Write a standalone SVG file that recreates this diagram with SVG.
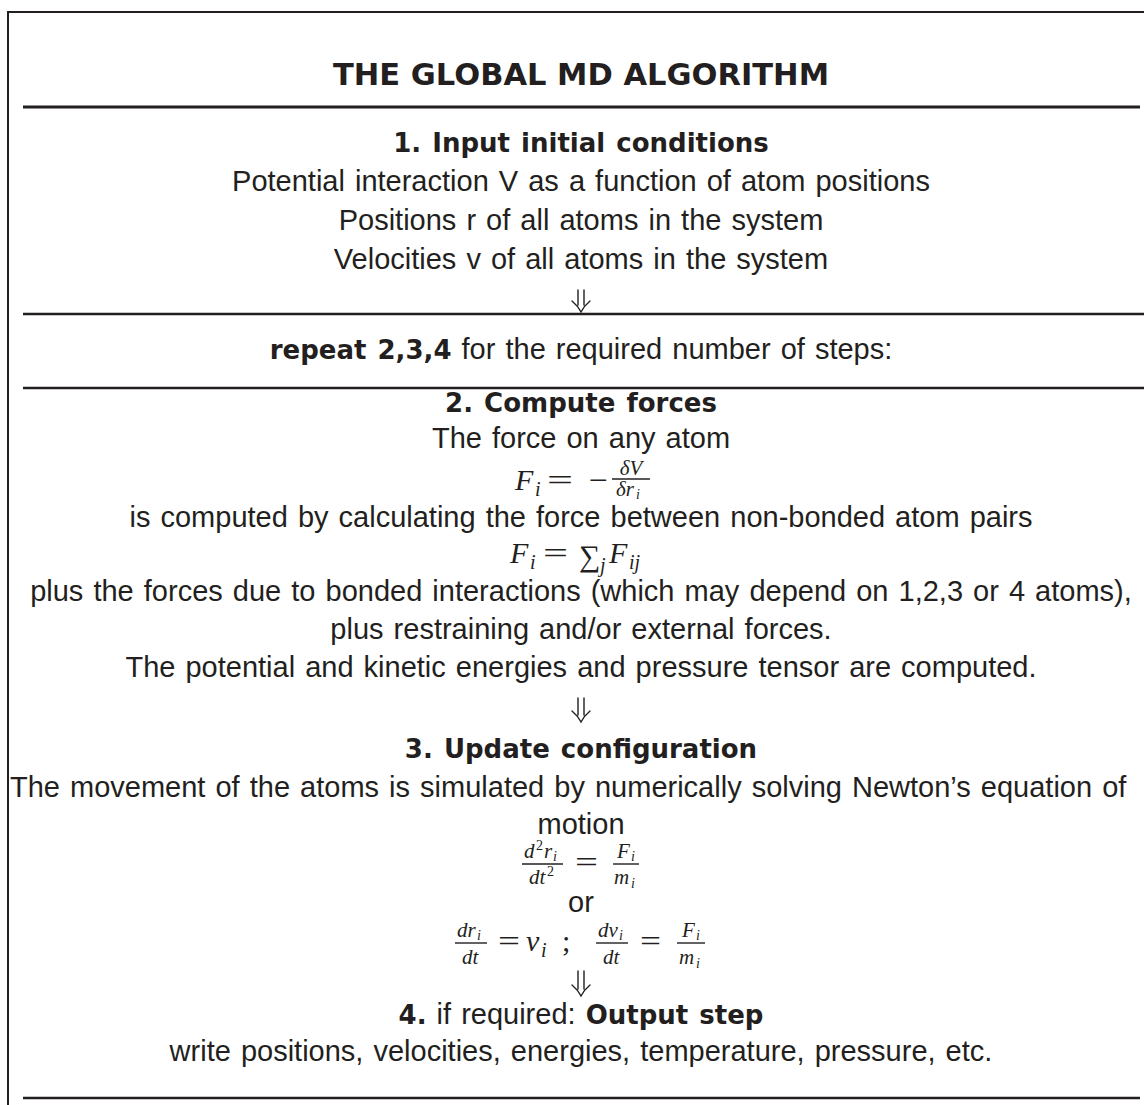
<svg xmlns="http://www.w3.org/2000/svg" width="1144" height="1105" viewBox="0 0 1144 1105">
  <style>
    .t { font-family: "Liberation Sans", "DejaVu Sans", sans-serif; font-size: 29px; word-spacing: 2px; fill: #231f20; text-anchor: middle; }
    .b { font-family: "DejaVu Sans", "Liberation Sans", sans-serif; font-size: 26px; font-weight: bold; }
    .ttl { font-family: "DejaVu Sans", "Liberation Sans", sans-serif; font-size: 30px; font-weight: bold; fill: #231f20; text-anchor: middle; }
    .mi { font-family: "Liberation Serif", "DejaVu Serif", serif; font-style: italic; fill: #231f20; }
    .mr { font-family: "Liberation Serif", "DejaVu Serif", serif; fill: #231f20; }
    .rule { stroke: #231f20; fill: none; }
    .bar { stroke: #231f20; stroke-width: 1.4; }
    .arrow { stroke: #231f20; stroke-width: 1.4; fill: none; stroke-linecap: round; }
  </style>

  <!-- frame and horizontal rules -->
  <g id="rules" class="rule">
    <line x1="7" y1="12" x2="1144" y2="12" stroke-width="2"/>
    <line x1="8" y1="11" x2="8" y2="1105" stroke-width="2"/>
    <line x1="23" y1="107" x2="1140" y2="107" stroke-width="3"/>
    <line x1="23" y1="314" x2="1144" y2="314" stroke-width="2.5"/>
    <line x1="23" y1="388" x2="1144" y2="388" stroke-width="2.5"/>
    <line x1="23" y1="1098" x2="1140" y2="1098" stroke-width="2.5"/>
  </g>

  <!-- title -->
  <g id="title">
    <text class="ttl" x="581" y="85" textLength="496" lengthAdjust="spacingAndGlyphs">THE GLOBAL MD ALGORITHM</text>
  </g>

  <!-- step 1 -->
  <g id="step1-input">
    <text class="t b" x="581" y="152">1. Input initial conditions</text>
    <text class="t" x="581" y="191">Potential interaction V as a function of atom positions</text>
    <text class="t" x="581" y="230">Positions r of all atoms in the system</text>
    <text class="t" x="581" y="269">Velocities v of all atoms in the system</text>
  </g>

  <!-- loop header -->
  <g id="loop">
    <text class="t" x="581" y="359"><tspan class="b">repeat 2,3,4</tspan> for the required number of steps:</text>
  </g>

  <!-- step 2 -->
  <g id="step2-forces">
    <text class="t b" x="581" y="412">2. Compute forces</text>
    <text class="t" x="581" y="448">The force on any atom</text>
    <!-- F_i = -dV/dr_i -->
    <text class="mi" x="515" y="490" font-size="30">F</text>
    <text class="mi" x="535" y="496" font-size="20">i</text>
    <text class="mr" x="547" y="490" font-size="30" textLength="26" lengthAdjust="spacingAndGlyphs">=</text>
    <text class="mr" x="589" y="490" font-size="30" textLength="19" lengthAdjust="spacingAndGlyphs">−</text>
    <line class="bar" x1="612" y1="479" x2="650" y2="479"/>
    <text class="mi" x="631" y="475" font-size="21" text-anchor="middle">δV</text>
    <text class="mi" x="616" y="496" font-size="21">δr</text>
    <text class="mi" x="636" y="499" font-size="14">i</text>
    <text class="t" x="581" y="527">is computed by calculating the force between non-bonded atom pairs</text>
    <!-- F_i = sum_j F_ij -->
    <text class="mi" x="510" y="563" font-size="30">F</text>
    <text class="mi" x="530" y="569" font-size="20">i</text>
    <text class="mr" x="543" y="563" font-size="30" textLength="25" lengthAdjust="spacingAndGlyphs">=</text>
    <text class="mr" x="579" y="566" font-size="30">∑</text>
    <text class="mi" x="600" y="572" font-size="20">j</text>
    <text class="mi" x="609" y="563" font-size="30">F</text>
    <text class="mi" x="629" y="569" font-size="20">ij</text>
    <text class="t" x="581" y="601">plus the forces due to bonded interactions (which may depend on 1,2,3 or 4 atoms),</text>
    <text class="t" x="581" y="639">plus restraining and/or external forces.</text>
    <text class="t" x="581" y="677">The potential and kinetic energies and pressure tensor are computed.</text>
  </g>

  <!-- step 3 -->
  <g id="step3-update">
    <text class="t b" x="581" y="758">3. Update configuration</text>
    <text class="t" x="10" y="797" style="text-anchor:start">The movement of the atoms is simulated by numerically solving Newton’s equation of</text>
    <text class="t" x="581" y="834">motion</text>
    <!-- d2r_i/dt2 = F_i/m_i -->
    <line class="bar" x1="522" y1="864" x2="563" y2="864"/>
    <text class="mi" x="524" y="858" font-size="21">d</text>
    <text class="mr" x="536" y="850" font-size="14">2</text>
    <text class="mi" x="544" y="858" font-size="21">r</text>
    <text class="mi" x="553" y="861" font-size="14">i</text>
    <text class="mi" x="529" y="884" font-size="21">dt</text>
    <text class="mr" x="547" y="876" font-size="14">2</text>
    <text class="mr" x="575" y="872" font-size="30" textLength="23" lengthAdjust="spacingAndGlyphs">=</text>
    <line class="bar" x1="613" y1="864" x2="639" y2="864"/>
    <text class="mi" x="617" y="858" font-size="21">F</text>
    <text class="mi" x="631" y="861" font-size="14">i</text>
    <text class="mi" x="614" y="884" font-size="21">m</text>
    <text class="mi" x="631" y="888" font-size="14">i</text>
    <text class="t" x="581" y="912">or</text>
    <!-- dr_i/dt = v_i ; dv_i/dt = F_i/m_i -->
    <line class="bar" x1="455" y1="943" x2="487" y2="943"/>
    <text class="mi" x="457" y="937" font-size="21">dr</text>
    <text class="mi" x="477" y="940" font-size="14">i</text>
    <text class="mi" x="462" y="964" font-size="21">dt</text>
    <text class="mr" x="498" y="951" font-size="30" textLength="22" lengthAdjust="spacingAndGlyphs">=</text>
    <text class="mi" x="526" y="951" font-size="30">v</text>
    <text class="mi" x="541" y="957" font-size="20">i</text>
    <text class="mr" x="562" y="951" font-size="30">;</text>
    <line class="bar" x1="596" y1="943" x2="628" y2="943"/>
    <text class="mi" x="598" y="937" font-size="21">dv</text>
    <text class="mi" x="619" y="940" font-size="14">i</text>
    <text class="mi" x="603" y="964" font-size="21">dt</text>
    <text class="mr" x="640" y="951" font-size="30" textLength="21" lengthAdjust="spacingAndGlyphs">=</text>
    <line class="bar" x1="677" y1="943" x2="705" y2="943"/>
    <text class="mi" x="682" y="937" font-size="21">F</text>
    <text class="mi" x="696" y="940" font-size="14">i</text>
    <text class="mi" x="679" y="964" font-size="21">m</text>
    <text class="mi" x="696" y="968" font-size="14">i</text>
  </g>

  <!-- step 4 -->
  <g id="step4-output">
    <text class="t" x="581" y="1024"><tspan class="b">4.</tspan> if required: <tspan class="b">Output step</tspan></text>
    <text class="t" x="581" y="1061">write positions, velocities, energies, temperature, pressure, etc.</text>
  </g>

  <!-- double-shafted flow arrows between stages -->
  <g id="connectors" class="arrow">
    <path d="M578 290 V305 M584 290 V305 M572 301 Q578 306 581 312 Q584 306 590 301"/>
    <path d="M578 698 V715 M584 698 V715 M572 711 Q578 716 581 722 Q584 716 590 711"/>
    <path d="M578 971 V989 M584 971 V989 M572 985 Q578 990 581 996 Q584 990 590 985"/>
  </g>
</svg>
